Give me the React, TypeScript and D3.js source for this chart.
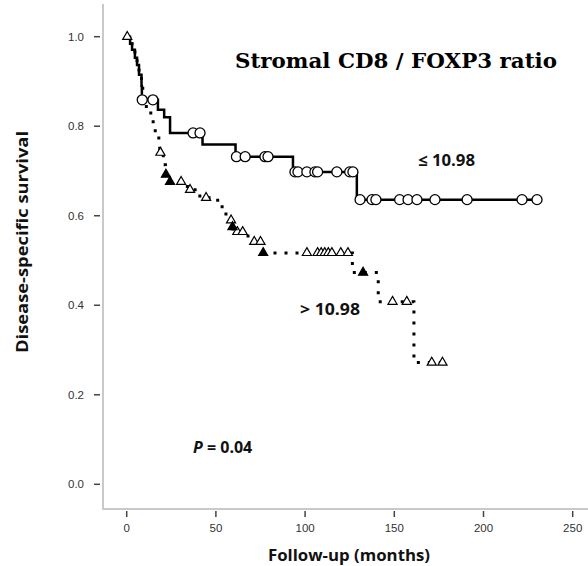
import React from "react";
import * as d3 from "d3";

// ≤ 10.98 group (solid)
const lowTimes = [0, 1.9, 3, 4.6, 5.8, 6.9, 8.3, 8.5, 17.5, 21, 24.3, 42.5, 61, 93.2, 129];
const lowSurv = [1, 0.984, 0.971, 0.953, 0.937, 0.915, 0.89, 0.859, 0.837, 0.82, 0.785, 0.759, 0.732, 0.698, 0.636];
const lowEnd = 230;
const lowCensor = [8.7, 14.7, 37.2, 41.1, 61.5, 66.4, 77.5, 79.2, 94.3, 96, 101, 105.5, 107, 117.8, 125, 126.8, 130.8, 137.5, 139.7, 153, 157.7, 162.7, 172.8, 190.8, 221.6, 230];

// > 10.98 group (dotted)
const highTimes = [0, 1.9, 3, 4.6, 5.8, 6.9, 8.3, 9.0, 11, 13.5, 16, 18, 18.5, 20.5, 21.7, 23.5, 34, 41, 51, 54.5, 58, 59, 59.5, 68, 76, 126.5, 141, 161];
const highSurv = [1, 0.984, 0.971, 0.953, 0.937, 0.915, 0.89, 0.859, 0.835, 0.81, 0.785, 0.765, 0.741, 0.714, 0.692, 0.676, 0.658, 0.64, 0.62, 0.604, 0.59, 0.575, 0.564, 0.542, 0.517, 0.473, 0.408, 0.272];
const highEnd = 177;
const highCensor = [0.3, 18.9, 30.5, 35.5, 44.5, 58.5, 62, 65, 71.5, 75, 101, 107, 109, 111, 113, 115, 120, 124, 149, 157, 171, 177];
const highCensorFilled = [22, 24.3, 59.3, 76.5, 132.5];

const xTicks = [0, 50, 100, 150, 200, 250];
const yTicks = [0, 0.2, 0.4, 0.6, 0.8, 1.0];

const W = 588, H = 566;

function survAt(times: number[], surv: number[], t: number) {
  let s = surv[0];
  for (let i = 0; i < times.length; i++) if (times[i] <= t) s = surv[i];
  return s;
}

export default function App() {
  const x = d3.scaleLinear().domain([0, 250]).range([126.7, 572.7]);
  const y = d3.scaleLinear().domain([0, 1]).range([484.3, 36.7]);
  const line = d3.line<[number, number]>().x(d => x(d[0])).y(d => y(d[1])).curve(d3.curveStepAfter);

  const lowPts: [number, number][] = lowTimes.map((t, i) => [t, lowSurv[i]] as [number, number]);
  lowPts.push([lowEnd, lowSurv[lowSurv.length - 1]]);
  const highPts: [number, number][] = highTimes.map((t, i) => [t, highSurv[i]] as [number, number]);
  highPts.push([highEnd, highSurv[highSurv.length - 1]]);

  const tri = d3.symbol().type(d3.symbolTriangle).size(36)() as string;
  const axisCol = "#c9c9c9";
  const tickCol = "#444";
  const sans = "'Open Sans', 'DejaVu Sans', sans-serif";

  return (
    <svg width={W} height={H} style={{ position: "absolute", left: 0, top: 0, background: "#fff" }}>
      <rect width={W} height={H} fill="#fff" />
      {/* frame */}
      <line x1={103} x2={103} y1={4} y2={510} stroke={axisCol} strokeWidth={2} />
      <line x1={102} x2={W} y1={509} y2={509} stroke={axisCol} strokeWidth={2} />
      {yTicks.map(v => (
        <g key={v}>
          <line x1={94} x2={100} y1={y(v)} y2={y(v)} stroke={tickCol} strokeWidth={1.5} />
          <text x={84} y={y(v) + 4} textAnchor="end" fontSize={11.5} fill="#333" fontFamily="'Liberation Sans', Arial, sans-serif">
            {v.toFixed(1)}
          </text>
        </g>
      ))}
      {xTicks.map(v => (
        <g key={v}>
          <line x1={x(v)} x2={x(v)} y1={511} y2={517} stroke={tickCol} strokeWidth={1.5} />
          <text x={x(v)} y={532} textAnchor="middle" fontSize={11.5} fill="#333" fontFamily="'Liberation Sans', Arial, sans-serif">
            {v}
          </text>
        </g>
      ))}
      <text x={268} y={561} fontSize={16} fontWeight="bold" fontFamily={sans} fill="#111" textLength={162} lengthAdjust="spacingAndGlyphs">
        Follow-up (months)
      </text>
      <text transform="translate(28,353) rotate(-90)" fontSize={16} fontWeight="bold" fontFamily={sans} fill="#111" textLength={222} lengthAdjust="spacingAndGlyphs">
        Disease-specific survival
      </text>

      {/* curves */}
      <path d={line(highPts) as string} fill="none" stroke="#000" strokeWidth={3} strokeDasharray="3 8" />
      <path d={line(lowPts) as string} fill="none" stroke="#000" strokeWidth={2.5} />

      {lowCensor.map((t, i) => (
        <circle key={"c" + i} cx={x(t)} cy={y(survAt(lowTimes, lowSurv, t))} r={5} fill="#fff" stroke="#000" strokeWidth={1.3} />
      ))}
      {highCensor.map((t, i) => (
        <path key={"t" + i} d={tri} transform={`translate(${x(t)},${y(survAt(highTimes, highSurv, t))})`} fill="#fff" stroke="#000" strokeWidth={1.2} />
      ))}
      {highCensorFilled.map((t, i) => (
        <path key={"f" + i} d={tri} transform={`translate(${x(t)},${y(survAt(highTimes, highSurv, t))})`} fill="#000" stroke="#000" strokeWidth={1.2} />
      ))}

      {/* annotations */}
      <text x={235} y={68} fontSize={21} fontWeight="bold" fontFamily="'DejaVu Serif', 'Liberation Serif', serif" fill="#000" textLength={322} lengthAdjust="spacingAndGlyphs">
        Stromal CD8 / FOXP3 ratio
      </text>
      <text x={418} y={166} fontSize={16} fontWeight="bold" fontFamily={sans} fill="#111" textLength={57} lengthAdjust="spacingAndGlyphs">
        ≤ 10.98
      </text>
      <text x={300} y={315} fontSize={16} fontWeight="bold" fontFamily={sans} fill="#111" textLength={60} lengthAdjust="spacingAndGlyphs">
        &gt; 10.98
      </text>
      <text x={193} y={453} fontSize={16} fontWeight="bold" fontFamily={sans} fill="#111">
        <tspan fontStyle="italic">P</tspan> = 0.04
      </text>
    </svg>
  );
}
